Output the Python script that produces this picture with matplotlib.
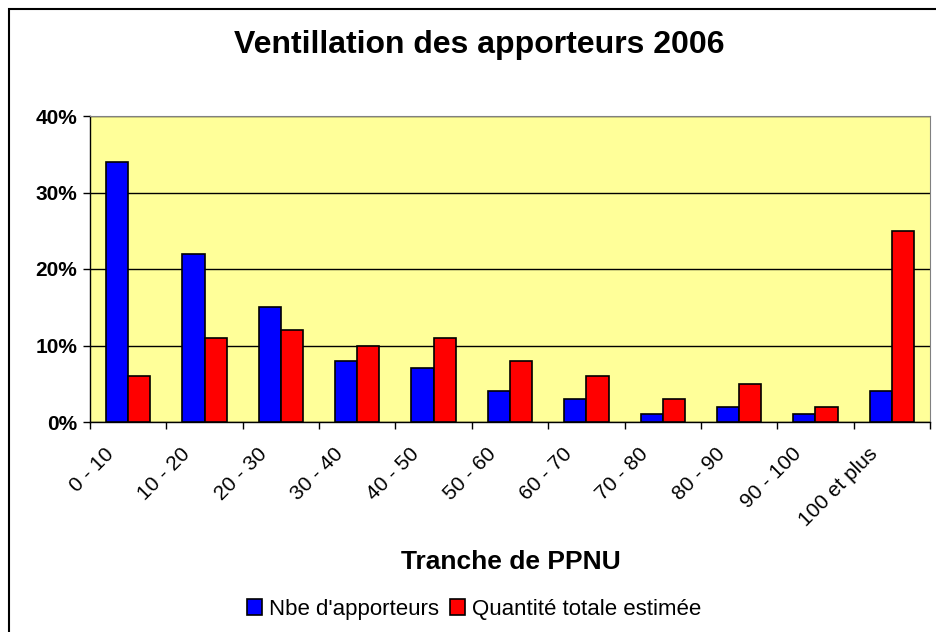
import numpy as np
import matplotlib
matplotlib.use('Agg')
import matplotlib.pyplot as plt
import matplotlib.transforms as mtrans
from matplotlib.patches import Rectangle
from matplotlib.ticker import FuncFormatter

# ─── Data ─────────────────────────────────────────────────────────────
categories = ['0 - 10', '10 - 20', '20 - 30', '30 - 40', '40 - 50', '50 - 60',
              '60 - 70', '70 - 80', '80 - 90', '90 - 100', '100 et plus']
nbe_apporteurs = [34, 22, 15, 8, 7, 4, 3, 1, 2, 1, 4]
quantite_totale = [6, 11, 12, 10, 11, 8, 6, 3, 5, 2, 25]
series_labels = ["Nbe d'apporteurs", "Quantité totale estimée"]

plt.rcParams['font.family'] = ['Liberation Sans', 'DejaVu Sans']

fig = plt.figure(figsize=(9.36, 6.32), dpi=100, facecolor='white')
ax = fig.add_axes([90 / 936, 1 - 422 / 632, 840 / 936, 306 / 632])
ax.set_facecolor('#FFFF99')

x = np.arange(len(categories))
w = 0.29
b1 = ax.bar(x - w / 2, nbe_apporteurs, w, color='#0000FF', edgecolor='black',
            linewidth=1.2, label=series_labels[0], zorder=3)
b2 = ax.bar(x + w / 2, quantite_totale, w, color='#FF0000', edgecolor='black',
            linewidth=1.2, label=series_labels[1], zorder=3)

ax.set_xlim(-0.5, len(categories) - 0.5)
ax.set_ylim(0, 40)
ax.set_yticks([0, 10, 20, 30, 40])
ax.yaxis.set_major_formatter(FuncFormatter(lambda v, p: f"{int(v)}%"))
ax.yaxis.grid(True, color='black', linewidth=1.0, zorder=1)
ax.tick_params(axis='y', labelsize=15, length=5, width=1, direction='out', pad=4)
for lbl in ax.get_yticklabels():
    lbl.set_fontweight('bold')

# ticks at category boundaries, labels at centers
ax.set_xticks(np.arange(len(categories) + 1) - 0.5)
ax.set_xticklabels([])
ax.set_xticks(x, minor=True)
ax.set_xticklabels(categories, minor=True, rotation=45, ha='right',
                   va='top', rotation_mode='anchor', fontsize=15)
ax.tick_params(axis='x', which='major', length=5, width=1, direction='out')
ax.tick_params(axis='x', which='minor', length=0, pad=16)
shift = mtrans.ScaledTranslation(-24 / 100, 0, fig.dpi_scale_trans)
for lbl in ax.get_xticklabels(minor=True):
    lbl.set_transform(lbl.get_transform() + shift)

for s in ['top', 'right']:
    ax.spines[s].set_color('#808080')
for s in ['left', 'bottom']:
    ax.spines[s].set_color('black')
    ax.spines[s].set_linewidth(1.0)

fig.text(479 / 936, 1 - 45 / 632, 'Ventillation des apporteurs 2006',
         ha='center', va='center', fontsize=23, fontweight='bold')
fig.text(511 / 936, 1 - 562 / 632, 'Tranche de PPNU', ha='center',
         va='center', fontsize=19, fontweight='bold')

fig.legend(handles=[b1, b2], labels=series_labels, loc='center',
           bbox_to_anchor=(474 / 936, 1 - 609 / 632), ncol=2, frameon=False,
           fontsize=16, handlelength=0.7, handleheight=0.7, handletextpad=0.3,
           columnspacing=0.5, borderpad=0)

# chart frame
fig.patches.append(Rectangle((8.5 / 936, -0.05), 1.2, 1 - 9 / 632 + 0.05,
                             transform=fig.transFigure, fill=False,
                             edgecolor='black', linewidth=1.5))

fig.savefig('out.png', dpi=100, facecolor='white')
